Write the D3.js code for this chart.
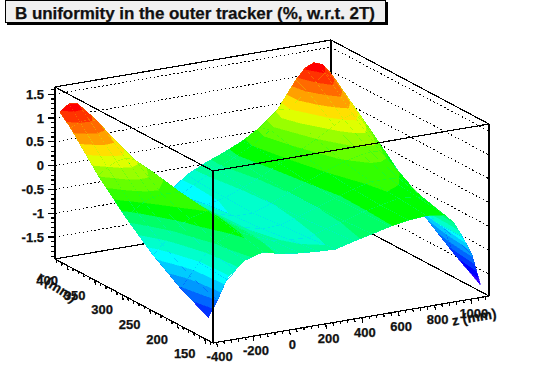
<!DOCTYPE html>
<html>
<head>
<meta charset="utf-8">
<script src="https://cdn.jsdelivr.net/npm/d3@7"></script>
<style>
  html, body { margin: 0; background: #fff; }
  svg { display: block; }
  text { font-family: "Liberation Sans", sans-serif; font-weight: bold; fill: #111; stroke: #111; stroke-width: 0.25; }
</style>
</head>
<body>
<svg width="544" height="383"></svg>
<script>
"use strict";

const titleText = "B uniformity in the outer tracker (%, w.r.t. 2T)";

// axes ranges
const zRange = [-420, 1100];
const rRange = [135, 422];
const bRange = [-1.96, 1.65];

const zTicks = [-400, -200, 0, 200, 400, 600, 800, 1000];
const rTicks = [150, 200, 250, 300, 350, 400];
const bTicks = [-1.5, -1, -0.5, 0, 0.5, 1, 1.5];

// grid of the surface
const zNodes = [-400, -350, -300, -250, -200, -100, 0, 100, 200, 300, 400, 500, 600, 700, 800, 900, 950, 1000, 1050, 1100];
const rNodes = [150, 200, 250, 300, 350, 400, 420];

// B deviation, one row per r node
const bAt150 = [-1.53, -1.2, -0.8, -0.62, -0.46, -0.35, -0.45, -0.5, -0.53, -0.55, -0.45, -0.36, -0.27, -0.2, -0.17, -0.22, -0.41, -0.75, -1.14, -1.83];
const bAt200 = [-1.23, -1, -0.75, -0.55, -0.4, -0.22, -0.4, -0.55, -0.6, -0.62, -0.5, -0.4, -0.28, -0.2, -0.12, -0.15, -0.25, -0.74, -0.9, -1.45];
const bAt250 = [-0.84, -0.65, -0.48, -0.32, -0.2, -0.1, -0.38, -0.58, -0.68, -0.66, -0.55, -0.42, -0.3, -0.17, -0.08, -0.08, -0.1, -0.2, -0.7, -1.02];
const bAt300 = [-0.35, -0.22, -0.1, -0.03, 0, -0.02, -0.35, -0.6, -0.72, -0.72, -0.58, -0.42, -0.25, -0.1, 0.03, 0.12, 0.14, 0.13, -0.1, -0.35];
const bAt350 = [0.22, 0.35, 0.45, 0.48, 0.42, 0.1, -0.35, -0.62, -0.78, -0.7, -0.55, -0.38, -0.18, 0, 0.2, 0.42, 0.53, 0.6, 0.45, 0.2];
const bAt400 = [0.91, 1, 1.02, 0.95, 0.7, 0, -0.45, -0.75, -0.9, -0.68, -0.47, -0.3, -0.1, 0.15, 0.5, 0.85, 1, 1.15, 1, 0.72];
const bAt420 = [1.13, 1.26, 1.23, 1.03, 0.72, -0.1, -0.5, -0.8, -0.95, -0.65, -0.47, -0.32, -0.15, 0.08, 0.4, 0.95, 1.17, 1.25, 1.18, 0.93];
const bRows = [bAt150, bAt200, bAt250, bAt300, bAt350, bAt400, bAt420];

// contour colours, lowest band first
const bandColors = ["#3300ff", "#0000ff", "#0033ff", "#0066ff", "#0099ff", "#00ccff", "#00ffff", "#00ffcc", "#00ff99", "#00ff66",
  "#00ff00", "#33ff00", "#66ff00", "#99ff00", "#dfff00", "#ffe000", "#ffa000", "#ff6a00", "#ff3300", "#ff0000"];
const bandStep = 0.157;
const bandFloor = -1.83;

const svg = d3.select("svg");

const zScale = d3.scaleLinear().domain(zRange).range([0, 1]);
const rScale = d3.scaleLinear().domain(rRange).range([0, 1]);
const bScale = d3.scaleLinear().domain(bRange).range([0, 1]);

// box: front corner and the three edges leaving it, in pixels
const front = [213, 343];
const uEdge = [276, -47];
const vEdge = [-158, -84];
const height = 172;

const project = (z, r, b) => {
  const u = zScale(z);
  const v = rScale(r);
  const w = bScale(b);
  return [
    front[0] + u * uEdge[0] + v * vEdge[0],
    front[1] + u * uEdge[1] + v * vEdge[1] - w * height,
  ];
};

const segment = (g, a, b, cls) =>
  g.append("line")
    .attr("x1", a[0]).attr("y1", a[1])
    .attr("x2", b[0]).attr("y2", b[1])
    .attr("stroke", "#000")
    .attr("stroke-width", cls === "dot" ? 1 : 1.2)
    .attr("stroke-dasharray", cls === "dot" ? "1.5 2.5" : null)
    .attr("shape-rendering", "crispEdges");

const [z0, z1] = zRange;
const [r0, r1] = rRange;
const [b0, b1] = bRange;

// back walls and grid, behind the surface
const back = svg.append("g");
bTicks.forEach((t) => {
  segment(back, project(z0, r1, t), project(z1, r1, t), "dot");
  segment(back, project(z1, r1, t), project(z1, r0, t), "dot");
});
segment(back, project(z0, r1, b0), project(z1, r1, b0));
segment(back, project(z1, r1, b0), project(z1, r0, b0));
segment(back, project(z1, r1, b0), project(z1, r1, b1));
segment(back, project(z0, r1, b1), project(z1, r1, b1));
segment(back, project(z1, r1, b1), project(z1, r0, b1));

// surface, cell by cell from the far corner to the near one
const surface = svg.append("g");
const thresholds = bandColors.map((c, i) => bandFloor + i * bandStep);
const contours = d3.contours().size([2, 2]).thresholds(thresholds);

for (let i = zNodes.length - 2; i >= 0; i--) {
  for (let j = rNodes.length - 2; j >= 0; j--) {
    const q = [bRows[j][i], bRows[j][i + 1], bRows[j + 1][i], bRows[j + 1][i + 1]];
    const toScreen = d3.geoTransform({
      point(x, y) {
        const fx = Math.max(0, Math.min(1, x - 0.5));
        const fy = Math.max(0, Math.min(1, y - 0.5));
        const b = d3.interpolate(d3.interpolate(q[0], q[1])(fx), d3.interpolate(q[2], q[3])(fx))(fy);
        const p = project(
          d3.interpolate(zNodes[i], zNodes[i + 1])(fx),
          d3.interpolate(rNodes[j], rNodes[j + 1])(fy),
          b
        );
        this.stream.point(p[0], p[1]);
      },
    });
    const path = d3.geoPath(toScreen);
    surface.append("g")
      .selectAll("path")
      .data(contours(q).filter((d) => d.coordinates.length))
      .enter()
      .append("path")
      .attr("d", path)
      .attr("fill", (d) => bandColors[thresholds.indexOf(d.value)])
      .attr("stroke", (d) => bandColors[thresholds.indexOf(d.value)])
      .attr("stroke-width", 0.5)
      .attr("shape-rendering", "crispEdges");
  }
}

// front edges of the box, over the surface
const frontG = svg.append("g");
segment(frontG, project(z0, r1, b1), project(z0, r0, b1));
segment(frontG, project(z0, r0, b1), project(z1, r0, b1));
segment(frontG, project(z0, r0, b1), project(z0, r0, b0));
segment(frontG, project(z0, r1, b0), project(z0, r0, b0));
segment(frontG, project(z0, r0, b0), project(z1, r0, b0));
segment(frontG, project(z0, r1, b0), project(z0, r1, b1));
segment(frontG, project(z1, r0, b0), project(z1, r0, b1));

// z axis
const tickG = svg.append("g");
d3.range(-400, 1100, 40).forEach((t) => {
  const p = project(t, r0, b0);
  const major = (t + 400) % 200 === 0;
  segment(tickG, p, [p[0] + (major ? 1 : 0.5), p[1] + (major ? 5 : 3)]);
});
tickG.selectAll("text.zlab")
  .data(zTicks)
  .enter()
  .append("text")
  .attr("class", "zlab")
  .attr("x", (d) => project(d, r0, b0)[0] + 3)
  .attr("y", (d) => project(d, r0, b0)[1] + 14.5)
  .attr("dy", "0.35em")
  .attr("text-anchor", "middle")
  .attr("font-size", 13)
  .text((d) => d);

// r axis
d3.range(140, 421, 10).forEach((t) => {
  const p = project(z0, t, b0);
  const major = t % 50 === 0;
  segment(tickG, p, [p[0] + (major ? 1 : 0.5), p[1] + (major ? 5 : 3)]);
});
tickG.selectAll("text.rlab")
  .data(rTicks)
  .enter()
  .append("text")
  .attr("class", "rlab")
  .attr("x", (d) => project(z0, d, b0)[0] - 20)
  .attr("y", (d) => project(z0, d, b0)[1] + 15)
  .attr("dy", "0.35em")
  .attr("text-anchor", "middle")
  .attr("font-size", 13)
  .text((d) => d);

// b axis
d3.range(-1.9, 1.61, 0.1).forEach((t) => {
  const p = project(z0, r1, t);
  const major = Math.abs(t * 2 - Math.round(t * 2)) < 0.01;
  segment(tickG, p, [p[0] - (major ? 7 : 4), p[1]]);
});
tickG.selectAll("text.blab")
  .data(bTicks)
  .enter()
  .append("text")
  .attr("class", "blab")
  .attr("x", 44)
  .attr("y", (d) => project(z0, r1, d)[1])
  .attr("dy", "0.35em")
  .attr("text-anchor", "end")
  .attr("font-size", 13)
  .text((d) => d);

// axis titles
svg.append("text")
  .attr("transform", "translate(474,317) rotate(-10)")
  .attr("text-anchor", "middle")
  .attr("dy", "0.35em")
  .attr("font-size", 14)
  .text("z (mm)");
svg.append("text")
  .attr("transform", "translate(57,287) rotate(33)")
  .attr("text-anchor", "middle")
  .attr("dy", "0.35em")
  .attr("font-size", 14)
  .text("r (mm)");

// title box
svg.append("rect").attr("x", 7).attr("y", 2).attr("width", 381).attr("height", 23).attr("fill", "#000");
svg.append("rect").attr("x", 5.5).attr("y", 0.5).attr("width", 380).attr("height", 22)
  .attr("fill", "#f0f0f0").attr("stroke", "#000");
svg.append("text")
  .attr("x", 15)
  .attr("y", 19)
  .attr("font-size", 17)
  .attr("textLength", 360)
  .text(titleText);
</script>
</body>
</html>
